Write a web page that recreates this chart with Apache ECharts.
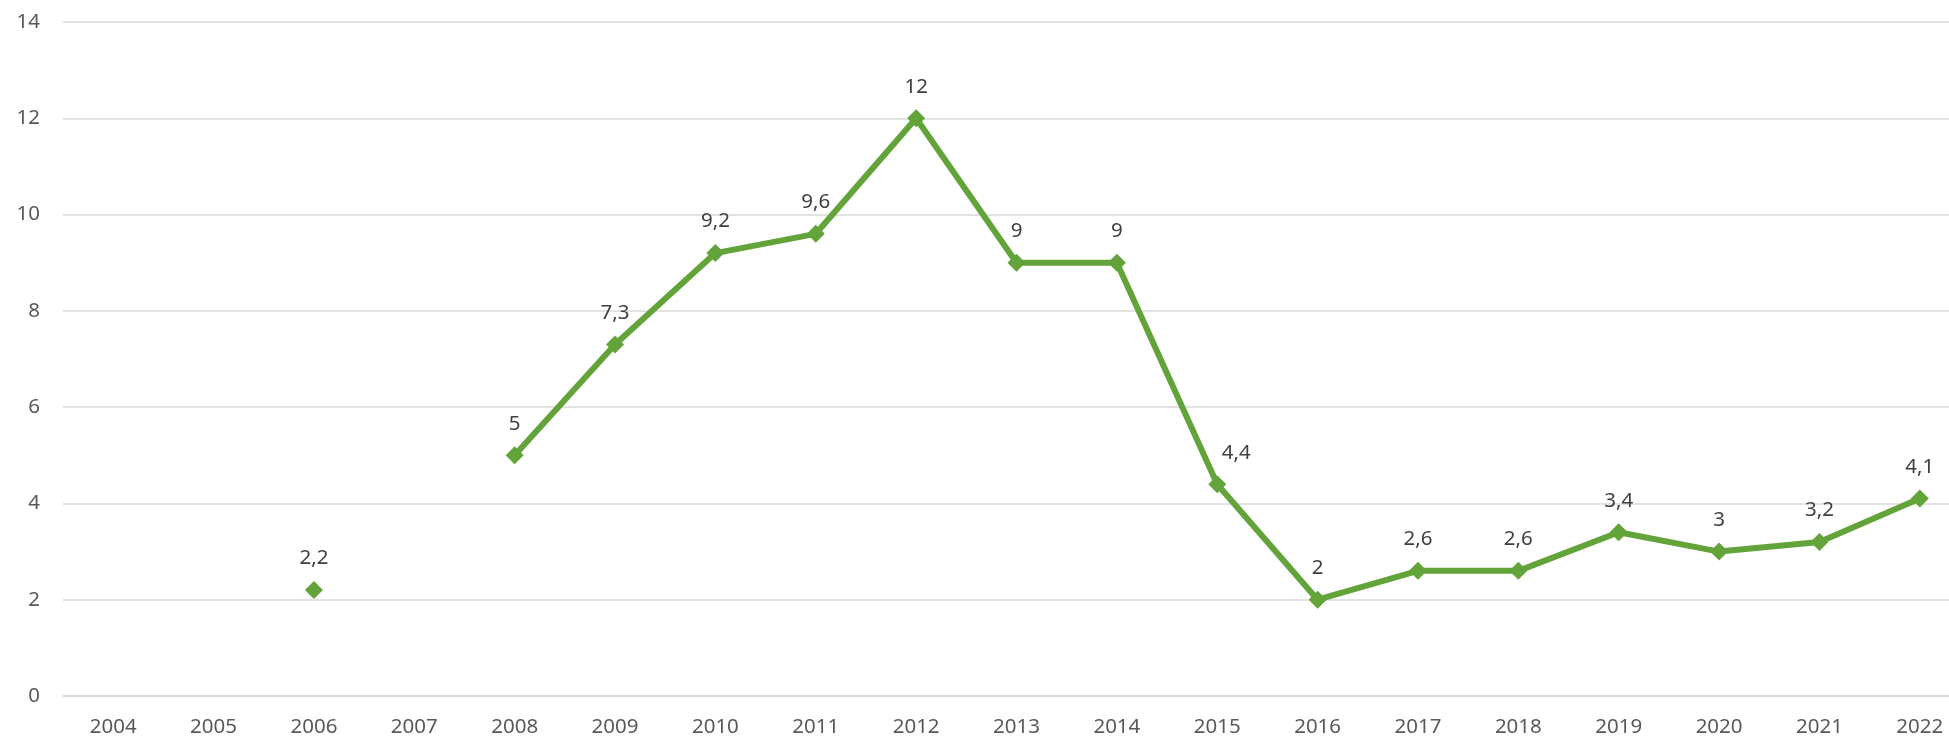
<!DOCTYPE html>
<html>
<head>
<meta charset="utf-8">
<script src="https://cdn.jsdelivr.net/npm/echarts@6/dist/echarts.min.js"></script>
<style>
  html, body { margin: 0; padding: 0; background: #fff; }
  #chart { width: 1949px; height: 737px; }
</style>
</head>
<body>
<div id="chart"></div>
<script>
// years on the x axis
const years = ["2004", "2005", "2006", "2007", "2008", "2009", "2010", "2011", "2012", "2013",
  "2014", "2015", "2016", "2017", "2018", "2019", "2020", "2021", "2022"];
// values, null where there is no point
const values = [null, null, 2.2, null, 5, 7.3, 9.2, 9.6, 12, 9,
  9, 4.4, 2, 2.6, 2.6, 3.4, 3, 3.2, 4.1];

const green = "#62a43a";
const font = "'Noto Sans', 'Open Sans', sans-serif";

// 2015 label sits a little to the right of its point in the original
const seriesData = values.map((v, i) => {
  if (years[i] === "2015") {
    return { value: v, label: { offset: [19, 0] } };
  }
  return v;
});

let myChart = echarts.init(document.getElementById("chart"));
let option = {
  backgroundColor: "#ffffff",
  animation: false,
  grid: {
    left: 63,
    width: 1907, // plot runs off the right edge, as in the original
    top: 22,
    bottom: 41,
    outerBoundsMode: "none",
    containLabel: false,
  },
  xAxis: {
    type: "category",
    data: years,
    boundaryGap: true,
    axisLine: { lineStyle: { color: "#d9d9d9", width: 1.5 } },
    axisTick: { show: false },
    axisLabel: {
      color: "#595959",
      fontFamily: font,
      fontSize: 20.5,
      margin: 21,
    },
  },
  yAxis: {
    type: "value",
    min: 0,
    max: 14,
    interval: 2,
    axisLine: { show: false },
    axisTick: { show: false },
    axisLabel: {
      color: "#595959",
      fontFamily: font,
      fontSize: 20.5,
      margin: 23,
    },
    splitLine: { lineStyle: { color: "#d9d9d9", width: 1.5 } },
  },
  series: [
    {
      type: "line",
      data: seriesData,
      connectNulls: false,
      symbol: "diamond",
      symbolSize: 18,
      showSymbol: true,
      lineStyle: { color: green, width: 6 },
      itemStyle: { color: green },
      label: {
        show: true,
        position: "top",
        distance: 12,
        color: "#404040",
        fontFamily: font,
        fontSize: 20.5,
        formatter: (p) => String(p.value).replace(".", ","),
      },
    },
  ],
};
myChart.setOption(option);
</script>
</body>
</html>
